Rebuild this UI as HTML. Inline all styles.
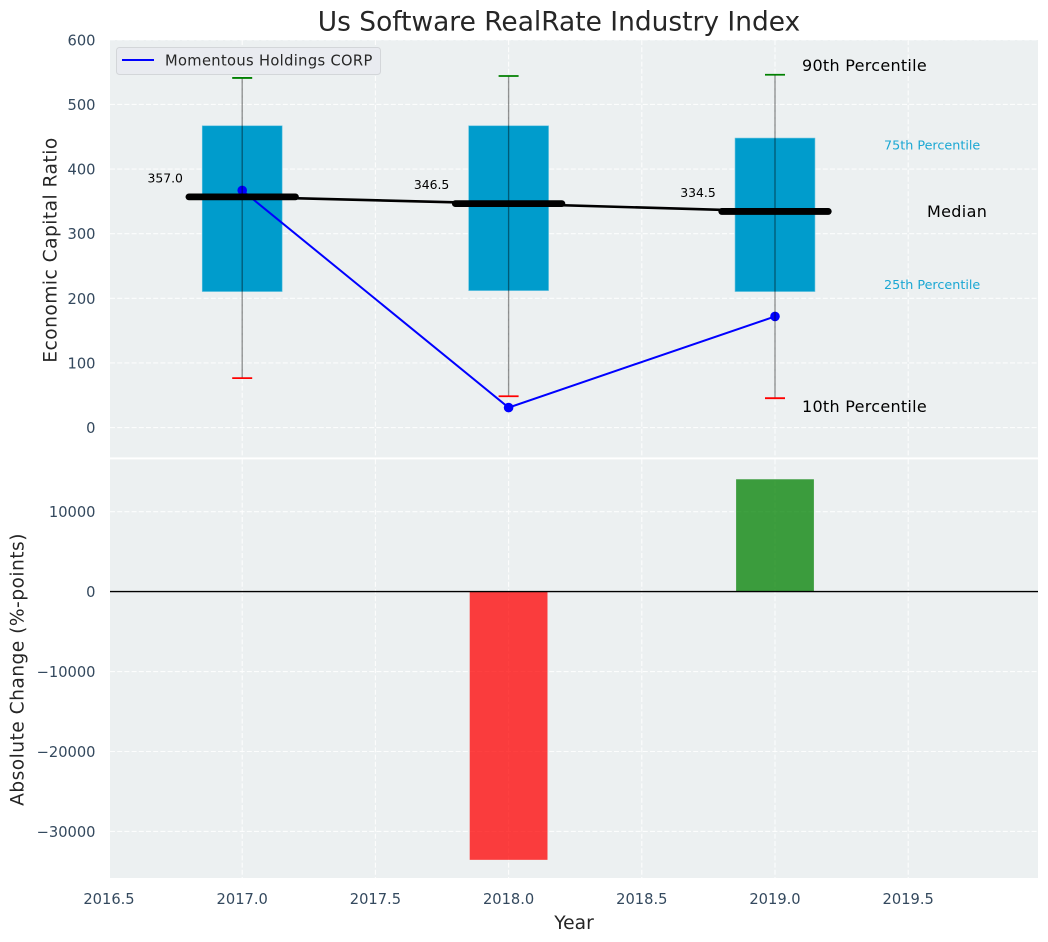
<!DOCTYPE html>
<html lang="en">
<head>
<meta charset="utf-8">
<title>Us Software RealRate Industry Index</title>
<style>
html,body{margin:0;padding:0;background:#fff;width:1048px;height:942px;overflow:hidden}
svg{display:block;font-family:"DejaVu Sans","Liberation Sans",sans-serif}
</style>
</head>
<body>
<svg id="chart" width="1048" height="942" viewBox="0 0 1048 942" xmlns="http://www.w3.org/2000/svg">
  <rect x="110" y="40" width="928" height="417.4" fill="#ecf0f1"/>
  <rect x="110" y="459.4" width="928" height="418.6" fill="#ecf0f1"/>
  <g id="grid"></g>
  <g id="topMarks"></g>
  <g id="bottomMarks"></g>
  <g id="tickLabels"></g>
  <text x="559" y="30.5" font-size="26.45" text-anchor="middle" fill="#262626">Us Software RealRate Industry Index</text>
  <text transform="translate(56.5 250) rotate(-90)" font-size="18.67" letter-spacing="0.45" text-anchor="middle" fill="#262626">Economic Capital Ratio</text>
  <text transform="translate(23.5 669.5) rotate(-90)" font-size="18.67" letter-spacing="0.45" text-anchor="middle" fill="#262626">Absolute Change (%-points)</text>
  <text x="574" y="929" font-size="18.67" text-anchor="middle" fill="#262626">Year</text>
  <g>
    <rect x="116.5" y="47.5" width="264" height="27" rx="3" fill="#e9ebf0" stroke="#d3d6d9" stroke-width="1"/>
    <line x1="122" y1="60" x2="154" y2="60" stroke="#0000ff" stroke-width="2"/>
    <text x="165" y="65.5" font-size="14.67" letter-spacing="0.35" fill="#262626">Momentous Holdings CORP</text>
  </g>
</svg>
<script>
const years = [2017, 2018, 2019];
const p10 = [76.5, 48.5, 45.5];
const p25 = [210.5, 212, 210.5];
const medians = [357.0, 346.5, 334.5];
const p75 = [467, 467, 448];
const p90 = [541, 544, 546];
const company = [367, 31, 172];
const changes = [null, -33550, 14050];
const xTicks = [2016.5, 2017, 2017.5, 2018, 2018.5, 2019, 2019.5];
const xTickLabels = ['2016.5', '2017.0', '2017.5', '2018.0', '2018.5', '2019.0', '2019.5'];
const topTicks = [0, 100, 200, 300, 400, 500, 600];
const bottomTicks = [-30000, -20000, -10000, 0, 10000];
const bottomTickLabels = ['\u221230000', '\u221220000', '\u221210000', '0', '10000'];

const NS = 'http://www.w3.org/2000/svg';
const x = v => 242.2 + (v - 2017) * 266.4;
const yTop = v => 427.6 - v * 0.6463;
const yBottom = v => 591.6 - v * 0.007995;

function mk(parent, tag, props, text) {
  const el = document.createElementNS(NS, tag);
  for (const k in props) el.setAttribute(k, props[k]);
  if (text !== undefined) el.textContent = text;
  parent.appendChild(el);
  return el;
}

const grid = document.getElementById('grid');
const marks = document.getElementById('topMarks');
const bottom = document.getElementById('bottomMarks');
const labels = document.getElementById('tickLabels');
const gridStyle = {stroke: '#ffffff', 'stroke-width': 1.1, 'stroke-dasharray': '5 2.2', 'stroke-opacity': 0.85, fill: 'none'};

xTicks.forEach((t, i) => {
  const px = x(t);
  if (px >= 110) {
    const a = mk(grid, 'line', Object.assign({x1: px, x2: px, y1: 40, y2: 457.4}, gridStyle));
    
    
    const b = mk(grid, 'line', Object.assign({x1: px, x2: px, y1: 459.4, y2: 878}, gridStyle));
    
    
  }
  const lab = mk(labels, 'text', {x: px, y: 904, 'font-size': 14.67, 'text-anchor': 'middle', fill: '#34495e'}, xTickLabels[i]);
  
  
});

topTicks.forEach(t => {
  const py = yTop(t);
  const g = mk(grid, 'line', Object.assign({x1: 110, x2: 1038, y1: py, y2: py}, gridStyle));
  
  
  const lab = mk(labels, 'text', {x: 95.5, y: py + 5.5, 'font-size': 14.67, 'text-anchor': 'end', fill: '#34495e'}, String(t));
  
  
});

bottomTicks.forEach((t, i) => {
  const py = yBottom(t);
  const g = mk(grid, 'line', Object.assign({x1: 110, x2: 1038, y1: py, y2: py}, gridStyle));
  
  
  const lab = mk(labels, 'text', {x: 95.5, y: py + 5.5, 'font-size': 14.67, 'text-anchor': 'end', fill: '#34495e'}, bottomTickLabels[i]);
  
  
});

/* percentile boxes */
years.forEach((yr, i) => {
  const box = mk(marks, 'rect', {x: x(yr - 0.15), y: yTop(p75[i]), width: x(yr + 0.15) - x(yr - 0.15), height: yTop(p25[i]) - yTop(p75[i]), fill: '#009ccc', stroke: '#66c4e0', 'stroke-width': 0.6});
  
  
});

/* company line and points */
const companyLine = mk(marks, 'polyline', {points: years.map((yr, i) => x(yr) + ',' + yTop(company[i])).join(' '), fill: 'none', stroke: '#0000ff', 'stroke-width': 2});


years.forEach((yr, i) => {
  const pt = mk(marks, 'circle', {cx: x(yr), cy: yTop(company[i]), r: 4.8, fill: '#0000ff'});
  
  
});

/* whiskers and caps */
years.forEach((yr, i) => {
  const w = mk(marks, 'line', {x1: x(yr), x2: x(yr), y1: yTop(p90[i]), y2: yTop(p10[i]), stroke: '#000000', 'stroke-opacity': 0.42, 'stroke-width': 1.35});
  
  
  const hi = mk(marks, 'line', {x1: x(yr) - 10, x2: x(yr) + 10, y1: yTop(p90[i]), y2: yTop(p90[i]), stroke: '#008000', 'stroke-width': 1.8});
  
  
  const lo = mk(marks, 'line', {x1: x(yr) - 10, x2: x(yr) + 10, y1: yTop(p10[i]), y2: yTop(p10[i]), stroke: '#ff0000', 'stroke-width': 1.8});
  
  
});

/* median trend and bars */
const medianLine = mk(marks, 'polyline', {points: years.map((yr, i) => x(yr) + ',' + yTop(medians[i])).join(' '), fill: 'none', stroke: '#000000', 'stroke-width': 2.6});


years.forEach((yr, i) => {
  const m = mk(marks, 'line', {x1: x(yr - 0.2), x2: x(yr + 0.2), y1: yTop(medians[i]), y2: yTop(medians[i]), stroke: '#000000', 'stroke-width': 6.8, 'stroke-linecap': 'round'});
  
  
  const t = mk(marks, 'text', {x: x(yr) - 77, y: yTop(medians[i]) - 14.6, 'font-size': 12.4, 'text-anchor': 'middle', fill: '#000000'}, medians[i].toFixed(1));
  
  
});

/* annotations anchored to the latest year */
const last = years.length - 1;
const lastX = x(years[last]);
const a90 = mk(marks, 'text', {x: lastX + 27, y: yTop(p90[last]) - 3.5, 'font-size': 16, 'letter-spacing': 0.28, fill: '#000000'}, '90th Percentile');


const a10 = mk(marks, 'text', {x: lastX + 27, y: yTop(p10[last]) + 14, 'font-size': 16, 'letter-spacing': 0.28, fill: '#000000'}, '10th Percentile');


const aMed = mk(marks, 'text', {x: lastX + 152, y: yTop(medians[last]) + 5.5, 'font-size': 16, 'letter-spacing': 0.33, fill: '#000000'}, 'Median');


const a75 = mk(marks, 'text', {x: lastX + 109, y: yTop(p75[last]) + 11.5, 'font-size': 12.75, fill: '#1aa7d3'}, '75th Percentile');


const a25 = mk(marks, 'text', {x: lastX + 109, y: yTop(p25[last]) - 2.5, 'font-size': 12.75, fill: '#1aa7d3'}, '25th Percentile');



/* bottom panel bars */
years.forEach((yr, i) => {
  if (changes[i] === null) return;
  const y0 = yBottom(0);
  const y1 = yBottom(changes[i]);
  const bar = mk(bottom, 'rect', {x: x(yr - 0.146), y: Math.min(y0, y1), width: x(yr + 0.146) - x(yr - 0.146), height: Math.abs(y1 - y0), fill: changes[i] < 0 ? '#ff0000' : '#008000', 'fill-opacity': 0.75});
  
  
});
const zero = mk(bottom, 'line', {x1: 110, x2: 1038, y1: yBottom(0), y2: yBottom(0), stroke: '#000000', 'stroke-width': 1.35});


</script>
</body>
</html>
